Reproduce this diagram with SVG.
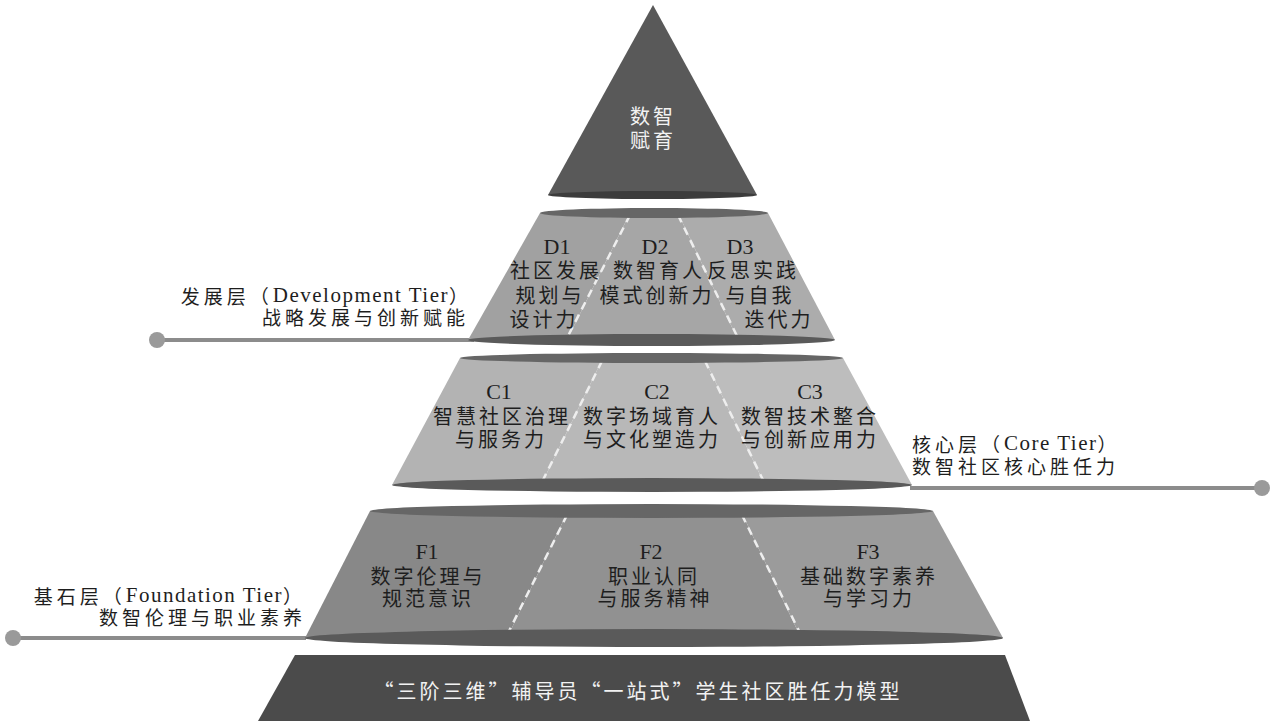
<svg xmlns="http://www.w3.org/2000/svg" width="1278" height="723" viewBox="0 0 1278 723">
<defs>
<style>
.cn{font-family:"Noto Sans CJK SC","Noto Sans CJK JP",sans-serif;font-size:20px;letter-spacing:3px;fill:#1e1e1e;text-anchor:middle;dominant-baseline:central}
.code{font-family:"Liberation Serif",serif;font-size:22px;letter-spacing:0px}
.lat{font-family:"Liberation Serif",serif;font-size:21px;letter-spacing:1.5px}
.lbl{font-family:"Noto Sans CJK SC","Noto Sans CJK JP",sans-serif;font-size:19px;letter-spacing:4px;fill:#1e1e1e;dominant-baseline:central}
.wt{fill:#f2f2f2}
.div{stroke:#eeeeee;stroke-width:2.5;stroke-dasharray:8 6;fill:none}
.topE{fill:#666666}
.botE{fill:#5a5a5a}
.lead{stroke:#8c8c8c;stroke-width:4;fill:none}
.dot{fill:#9a9a9a}
</style>
</defs>
<rect width="1278" height="723" fill="#ffffff"/>

<g id="connectors">
<line class="lead" x1="157" y1="340" x2="474" y2="340"/>
<circle class="dot" cx="157" cy="340" r="8"/>
<line class="lead" x1="910" y1="488" x2="1262" y2="488"/>
<circle class="dot" cx="1262" cy="488" r="8"/>
<line class="lead" x1="13" y1="638" x2="306" y2="638"/>
<circle class="dot" cx="13" cy="638" r="8"/>
</g>

<g id="apex">
<polygon points="653,5 757,195 548,195" fill="#595959"/>
<ellipse cx="652.5" cy="195" rx="104.5" ry="4" fill="#3c3c3c"/>
<text class="cn wt"><tspan x="653" y="115">数智</tspan><tspan x="653" y="139">赋育</tspan></text>
</g>

<g id="tier-D">
<polygon points="540,213 630,213 567,340 468,340" fill="#a1a1a1"/>
<polygon points="630,213 678,213 738,340 567,340" fill="#a6a6a6"/>
<polygon points="678,213 768,213 835,340 738,340" fill="#acacac"/>
<line class="div" x1="630" y1="215" x2="567" y2="338"/>
<line class="div" x1="678" y1="215" x2="738" y2="338"/>
<ellipse class="topE" cx="654" cy="213" rx="114" ry="5"/>
<ellipse class="botE" cx="651.5" cy="340" rx="183.5" ry="6"/>
</g>
<g id="D1">
<text class="cn"><tspan class="code" x="557" y="246">D1</tspan><tspan x="556" y="269">社区发展</tspan><tspan x="550" y="294">规划与</tspan><tspan x="544" y="318">设计力</tspan></text>
</g>
<g id="D2">
<text class="cn"><tspan class="code" x="655" y="246">D2</tspan><tspan x="659" y="269">数智育人</tspan><tspan x="657" y="294">模式创新力</tspan></text>
</g>
<g id="D3">
<text class="cn"><tspan class="code" x="740" y="246">D3</tspan><tspan x="753" y="269">反思实践</tspan><tspan x="760" y="294">与自我</tspan><tspan x="779" y="318">迭代力</tspan></text>
</g>

<g id="tier-C">
<polygon points="460,358 603,358 541,485 392,485" fill="#b3b3b3"/>
<polygon points="603,358 704,358 765,485 541,485" fill="#b8b8b8"/>
<polygon points="704,358 843,358 912,485 765,485" fill="#bdbdbd"/>
<line class="div" x1="602" y1="361" x2="542" y2="482"/>
<line class="div" x1="705" y1="361" x2="764" y2="482"/>
<ellipse class="topE" cx="651.5" cy="358" rx="191.5" ry="5"/>
<ellipse class="botE" cx="652" cy="485" rx="260" ry="7"/>
</g>
<g id="C1">
<text class="cn"><tspan class="code" x="499" y="391">C1</tspan><tspan x="502" y="415">智慧社区治理</tspan><tspan x="501" y="438">与服务力</tspan></text>
</g>
<g id="C2">
<text class="cn"><tspan class="code" x="657" y="391">C2</tspan><tspan x="652" y="415">数字场域育人</tspan><tspan x="652" y="438">与文化塑造力</tspan></text>
</g>
<g id="C3">
<text class="cn"><tspan class="code" x="810" y="391">C3</tspan><tspan x="810" y="415">数智技术整合</tspan><tspan x="810" y="438">与创新应用力</tspan></text>
</g>

<g id="tier-F">
<polygon points="370,511 568,511 507,638 305,638" fill="#888888"/>
<polygon points="568,511 741,511 801,638 507,638" fill="#919191"/>
<polygon points="741,511 933,511 1003,638 801,638" fill="#9b9b9b"/>
<line class="div" x1="567" y1="515" x2="508" y2="633"/>
<line class="div" x1="742" y1="515" x2="800" y2="633"/>
<ellipse class="topE" cx="651.5" cy="511" rx="281.5" ry="7"/>
<ellipse class="botE" cx="654" cy="638" rx="349" ry="9"/>
</g>
<g id="F1">
<text class="cn"><tspan class="code" x="427" y="551">F1</tspan><tspan x="428" y="575">数字伦理与</tspan><tspan x="428" y="597">规范意识</tspan></text>
</g>
<g id="F2">
<text class="cn"><tspan class="code" x="651" y="551">F2</tspan><tspan x="654" y="575">职业认同</tspan><tspan x="655" y="597">与服务精神</tspan></text>
</g>
<g id="F3">
<text class="cn"><tspan class="code" x="868" y="551">F3</tspan><tspan x="869" y="575">基础数字素养</tspan><tspan x="869" y="597">与学习力</tspan></text>
</g>

<g id="base">
<polygon points="295,655 1005,655 1030,721 258,721" fill="#4b4b4b"/>
<text class="cn wt" x="638" y="690">“三阶三维”辅导员“一站式”学生社区胜任力模型</text>
</g>

<g id="label-development">
<text class="lbl" text-anchor="end"><tspan x="472" y="295">发展层（<tspan class="lat">Development Tier</tspan>）</tspan><tspan x="469" y="316">战略发展与创新赋能</tspan></text>
</g>
<g id="label-core">
<text class="lbl" text-anchor="start"><tspan x="912" y="443">核心层（<tspan class="lat">Core Tier</tspan>）</tspan><tspan x="912" y="465">数智社区核心胜任力</tspan></text>
</g>
<g id="label-foundation">
<text class="lbl" text-anchor="end"><tspan x="306" y="595">基石层（<tspan class="lat">Foundation Tier</tspan>）</tspan><tspan x="306" y="616">数智伦理与职业素养</tspan></text>
</g>
</svg>
